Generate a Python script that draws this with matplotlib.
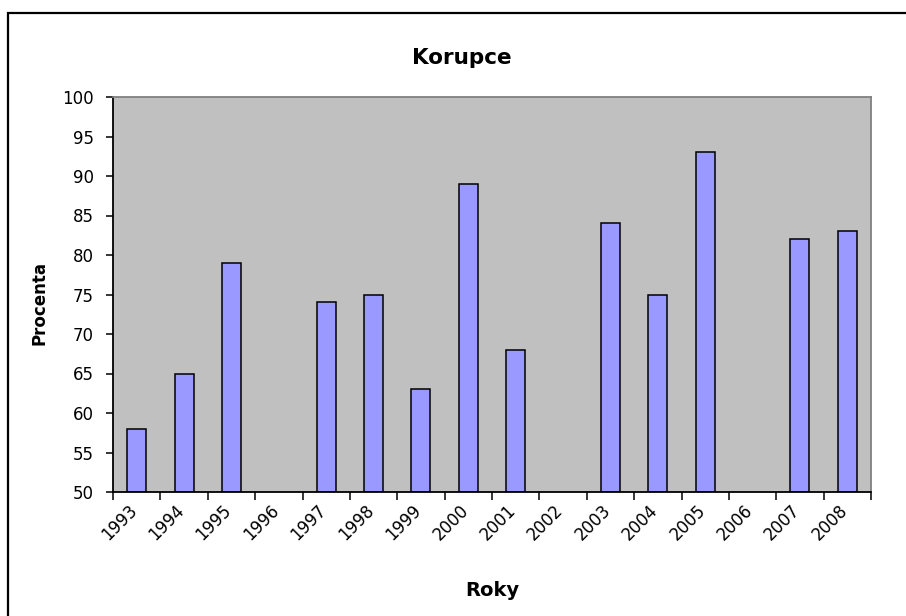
import numpy as np
import matplotlib.pyplot as plt
from matplotlib.patches import Rectangle

years = ['1993', '1994', '1995', '1996', '1997', '1998', '1999', '2000',
         '2001', '2002', '2003', '2004', '2005', '2006', '2007', '2008']
procenta = [58, 65, 79, np.nan, 74, 75, 63, 89, 68, np.nan, 84, 75, 93, np.nan, 82, 83]

plt.rcParams['font.family'] = ['DejaVu Sans']

fig = plt.figure(figsize=(9.06, 6.16), dpi=100)
ax = fig.add_axes([113 / 906, 1 - 492 / 616, (871 - 113) / 906, (492 - 97) / 616])

# outer chart frame (right/bottom edges fall outside the picture)
fig.patches.append(Rectangle((8 / 906, -0.1), 1.2, 1 - 13 / 616 + 0.1, transform=fig.transFigure,
                             fill=False, edgecolor='black', linewidth=1.6))

x = np.arange(len(years))
vals = np.array(procenta, dtype=float)
mask = ~np.isnan(vals)
ax.bar(x[mask], vals[mask] - 50, width=0.4, bottom=50, color='#9999FF',
       edgecolor='black', linewidth=1.1)

ax.set_facecolor('#C0C0C0')
ax.set_xlim(-0.5, len(years) - 0.5)
ax.set_ylim(50, 100)
ax.set_yticks(np.arange(50, 101, 5))

# tick marks on category boundaries, labels slightly right of them
ax.set_xticks(np.arange(len(years) + 1) - 0.5)
ax.set_xticklabels([])
ax.set_xticks(x - 0.5 + 0.13, minor=True)
ax.set_xticklabels(years, minor=True, rotation=45, ha='center', va='top')

ax.tick_params(axis='both', direction='out', length=5, width=1.1, labelsize=12, color='black')
ax.tick_params(axis='x', which='major', length=6)
ax.tick_params(axis='x', which='minor', length=0, pad=7, labelsize=12)
ax.tick_params(axis='y', pad=9)

ax.spines['left'].set_color('black')
ax.spines['bottom'].set_color('black')
ax.spines['left'].set_linewidth(1.3)
ax.spines['bottom'].set_linewidth(1.3)
ax.spines['top'].set_color('#808080')
ax.spines['right'].set_color('#808080')
ax.spines['top'].set_linewidth(1.3)
ax.spines['right'].set_linewidth(1.3)

fig.text(462 / 906, 1 - 58 / 616, 'Korupce', ha='center', va='center',
         fontsize=15.5, fontweight='bold')
fig.text(40 / 906, 1 - 303 / 616, 'Procenta', ha='center', va='center',
         rotation=90, fontsize=12, fontweight='bold')
fig.text(492 / 906, 1 - 590 / 616, 'Roky', ha='center', va='center',
         fontsize=14, fontweight='bold')

plt.savefig('out.png', dpi=100)
